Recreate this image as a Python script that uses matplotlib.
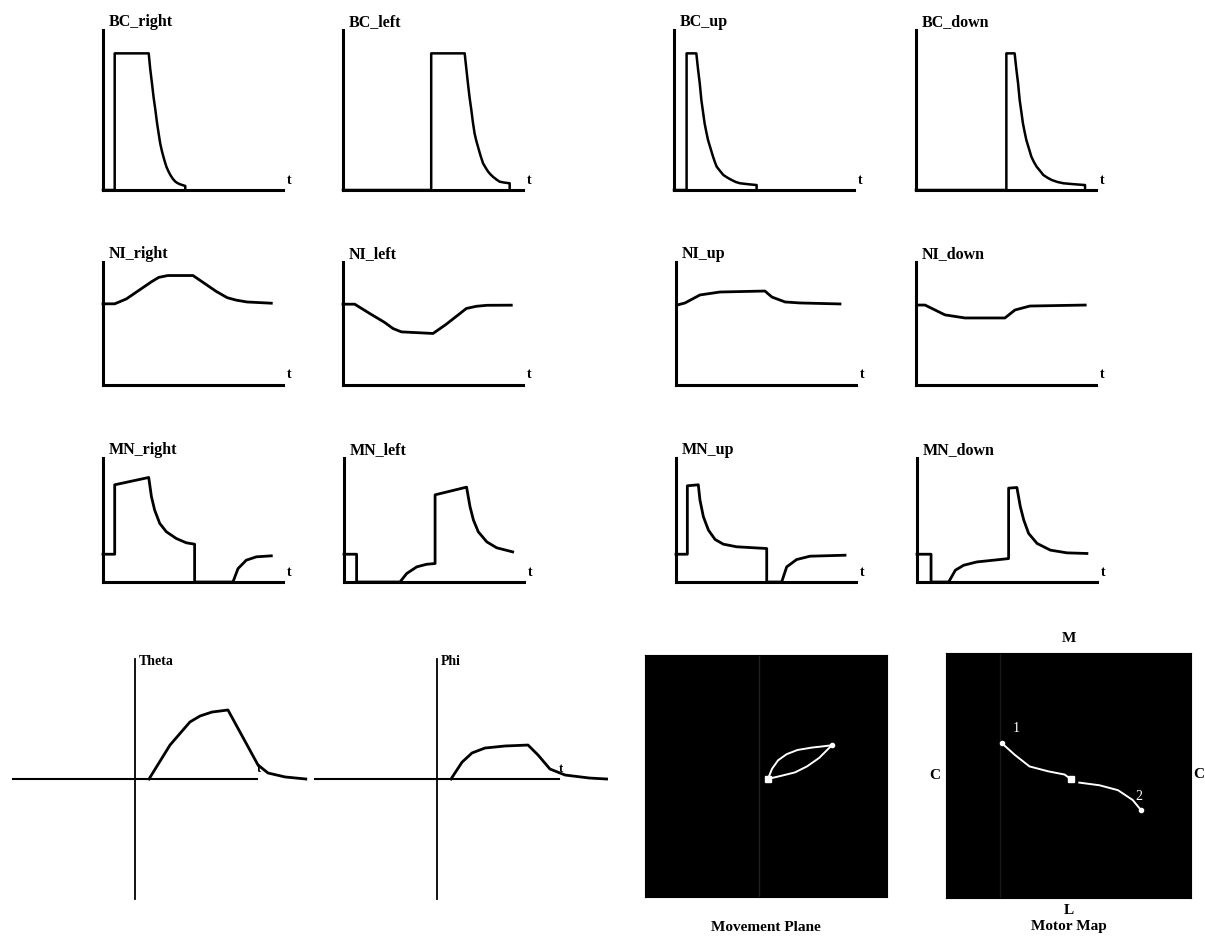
"""
Network activity panels: BC / NI / MN traces, joint angles,
movement plane and motor map
"""

import matplotlib
matplotlib.use("Agg")
import matplotlib.pyplot as plt

W, H = 1205, 941
SERIF = ["Liberation Serif", "DejaVu Serif"]

# ---- BC row (burst traces) ----
bc_right_t = [0, 0.065, 0.065, 0.254, 0.262, 0.272, 0.281, 0.291, 0.300, 0.309, 0.318, 0.328,
              0.340, 0.352, 0.363, 0.374, 0.388, 0.402, 0.416, 0.430, 0.444, 0.457, 0.457]
bc_right_v = [0, 0, 0.854, 0.854, 0.76, 0.667, 0.58, 0.50, 0.42, 0.354, 0.29, 0.240,
              0.19, 0.146, 0.118, 0.094, 0.07, 0.052, 0.042, 0.035, 0.03, 0.025, 0]
bc_left_t = [0, 0.49, 0.49, 0.676, 0.685, 0.694, 0.703, 0.713, 0.722, 0.731, 0.740, 0.75,
             0.764, 0.778, 0.792, 0.806, 0.82, 0.833, 0.852, 0.87, 0.898, 0.926, 0.926]
bc_left_v = [0, 0, 0.854, 0.854, 0.76, 0.667, 0.58, 0.5, 0.42, 0.354, 0.31, 0.27,
             0.215, 0.167, 0.14, 0.115, 0.097, 0.083, 0.066, 0.052, 0.046, 0.042, 0]
bc_up_t = [0, 0.07, 0.07, 0.124, 0.133, 0.143, 0.152, 0.161, 0.170, 0.180, 0.189, 0.203,
           0.217, 0.227, 0.237, 0.255, 0.274, 0.297, 0.32, 0.343, 0.367, 0.413, 0.459, 0.459]
bc_up_v = [0, 0, 0.854, 0.854, 0.76, 0.667, 0.5625, 0.49, 0.417, 0.36, 0.3125, 0.26,
           0.208, 0.175, 0.146, 0.12, 0.094, 0.077, 0.0625, 0.05, 0.042, 0.036, 0.031, 0]
bc_down_t = [0, 0.502, 0.502, 0.548, 0.557, 0.567, 0.576, 0.585, 0.594, 0.604, 0.613, 0.627,
             0.641, 0.655, 0.67, 0.689, 0.707, 0.73, 0.754, 0.786, 0.819, 0.879, 0.939, 0.939]
bc_down_v = [0, 0, 0.854, 0.854, 0.76, 0.667, 0.5625, 0.49, 0.417, 0.36, 0.3125, 0.26,
             0.208, 0.175, 0.146, 0.12, 0.094, 0.077, 0.0625, 0.05, 0.042, 0.036, 0.031, 0]

# ---- NI row ----
ni_right_t = [0.0, 0.065, 0.13, 0.2, 0.27, 0.31, 0.36, 0.5, 0.56, 0.63, 0.69, 0.74, 0.8, 0.935]
ni_right_v = [0.66, 0.66, 0.70, 0.77, 0.84, 0.875, 0.89, 0.89, 0.83, 0.76, 0.71, 0.69, 0.675, 0.665]
ni_left_t = [0.0, 0.065, 0.15, 0.23, 0.278, 0.324, 0.5, 0.57, 0.64, 0.685, 0.741, 0.8, 0.935]
ni_left_v = [0.657, 0.657, 0.58, 0.51, 0.459, 0.432, 0.419, 0.49, 0.57, 0.622, 0.64, 0.648, 0.649]
ni_up_t = [0.006, 0.05, 0.133, 0.244, 0.494, 0.533, 0.606, 0.689, 0.911]
ni_up_v = [0.65, 0.667, 0.732, 0.756, 0.764, 0.715, 0.675, 0.667, 0.659]
ni_down_t = [0.011, 0.05, 0.161, 0.272, 0.494, 0.55, 0.633, 0.94]
ni_down_v = [0.65, 0.65, 0.57, 0.545, 0.545, 0.61, 0.642, 0.65]

# ---- MN row ----
mn_right_t = [0, 0.065, 0.065, 0.254, 0.269, 0.287, 0.315, 0.352, 0.407, 0.463, 0.509, 0.509,
              0.722, 0.75, 0.796, 0.852, 0.935]
mn_right_v = [0.224, 0.224, 0.784, 0.843, 0.689, 0.58, 0.473, 0.405, 0.351, 0.316, 0.305, 0,
              0, 0.108, 0.176, 0.203, 0.211]
mn_left_t = [0, 0.07, 0.07, 0.311, 0.348, 0.404, 0.459, 0.506, 0.506, 0.681, 0.7, 0.719,
             0.746, 0.793, 0.848, 0.937]
mn_left_v = [0.224, 0.224, 0, 0, 0.068, 0.122, 0.143, 0.149, 0.703, 0.765, 0.608, 0.5,
             0.405, 0.324, 0.276, 0.243]
mn_up_t = [0, 0.063, 0.063, 0.124, 0.133, 0.152, 0.18, 0.217, 0.263, 0.337, 0.504, 0.504,
           0.587, 0.615, 0.67, 0.744, 0.939]
mn_up_v = [0.224, 0.224, 0.776, 0.784, 0.662, 0.527, 0.419, 0.343, 0.305, 0.284, 0.27, 0,
           0, 0.122, 0.181, 0.208, 0.216]
mn_down_t = [0, 0.078, 0.078, 0.176, 0.213, 0.259, 0.333, 0.426, 0.509, 0.509, 0.555, 0.574,
             0.593, 0.62, 0.667, 0.741, 0.833, 0.944]
mn_down_v = [0.224, 0.224, 0, 0, 0.095, 0.135, 0.162, 0.176, 0.189, 0.757, 0.762, 0.608,
             0.5, 0.392, 0.311, 0.257, 0.235, 0.23]

# ---- joint angles ----
theta_t = [0.115, 0.287, 0.45, 0.533, 0.631, 0.762, 1.008, 1.09, 1.23, 1.40]
theta_v = [0.0, 0.283, 0.475, 0.525, 0.558, 0.575, 0.117, 0.05, 0.017, 0.0]
phi_t = [0.115, 0.205, 0.287, 0.393, 0.557, 0.746, 0.828, 0.926, 1.05, 1.25, 1.39]
phi_v = [0.0, 0.14, 0.217, 0.258, 0.275, 0.283, 0.2, 0.083, 0.033, 0.008, 0.0]

# ---- movement plane (hand path, two arcs) ----
move_up_x = [0.016, 0.05, 0.1, 0.17, 0.26, 0.38, 0.47, 0.544]
move_up_y = [-0.024, 0.06, 0.13, 0.18, 0.215, 0.235, 0.245, 0.254]
move_lo_x = [0.016, 0.12, 0.24, 0.34, 0.44, 0.544]
move_lo_y = [-0.024, 0.0, 0.03, 0.08, 0.15, 0.254]

# ---- motor map ----
map_a_x = [-0.542, -0.438, -0.318, -0.166, -0.032, 0.022]
map_a_y = [0.262, 0.168, 0.074, 0.034, 0.008, -0.032]
map_b_x = [0.088, 0.254, 0.404, 0.524, 0.59]
map_b_y = [-0.058, -0.08, -0.12, -0.2, -0.28]


def px_axes(fig, x0, ytop, w, h):
    return fig.add_axes([x0 / W, 1 - (ytop + h) / H, w / W, h / H])


def small_panel(fig, x0, ybase, h, title, t, v, lw=2.0):
    ax = px_axes(fig, x0, ybase - h, 180, h)
    ax.set_xlim(0, 1)
    ax.set_ylim(0, 1)
    ax.patch.set_alpha(0)
    for s in ["top", "right"]:
        ax.spines[s].set_visible(False)
    for s in ["left", "bottom"]:
        ax.spines[s].set_linewidth(2.2)
    ax.set_xticks([])
    ax.set_yticks([])
    ax.plot(t, v, color="black", lw=lw, clip_on=False)
    ax.text(0.03, 1.0 + 4 / h, title, transform=ax.transAxes, fontsize=11.5,
            fontweight="bold", family=SERIF, va="baseline")
    ax.text(1.02, 10 / h, "t", transform=ax.transAxes, fontsize=10,
            fontweight="bold", family=SERIF, va="center")
    return ax


def angle_panel(fig, x0, x1, ox, title, t, v):
    # origin at pixel (ox, 779); 122 px per x unit, 120 px per y unit
    ax = px_axes(fig, x0, 655, x1 - x0, 250)
    ax.set_xlim((x0 - ox) / 122, (x1 - ox) / 122)
    ax.set_ylim(-(905 - 779) / 120, (779 - 655) / 120)
    ax.axis("off")
    ax.plot([-1.0, 1.0], [0, 0], color="black", lw=1.5)
    ax.plot([0, 0], [-1.0, 1.0], color="black", lw=1.3)
    ax.plot(t, v, color="black", lw=2.0)
    ax.text(0.03, 0.98, title, fontsize=10, fontweight="bold", family=SERIF, va="center")
    ax.text(1.0, 0.08, "t", fontsize=9, fontweight="bold", family=SERIF, va="center")
    return ax


def black_box(fig, x0, ytop, size):
    ax = px_axes(fig, x0, ytop, size, size)
    ax.set_facecolor("black")
    ax.set_xlim(-1, 1)
    ax.set_ylim(-1, 1)
    ax.set_xticks([])
    ax.set_yticks([])
    return ax


fig = plt.figure(figsize=(W / 100, H / 100), dpi=100)

# rows of small traces
small_panel(fig, 103, 190, 160, "BC_right", bc_right_t, bc_right_v, lw=1.8)
small_panel(fig, 343, 190, 160, "BC_left", bc_left_t, bc_left_v, lw=1.8)
small_panel(fig, 674, 190, 160, "BC_up", bc_up_t, bc_up_v, lw=1.8)
small_panel(fig, 916, 190, 160, "BC_down", bc_down_t, bc_down_v, lw=1.8)

small_panel(fig, 103, 385, 123, "NI_right", ni_right_t, ni_right_v)
small_panel(fig, 343, 385, 123, "NI_left", ni_left_t, ni_left_v)
small_panel(fig, 676, 385, 123, "NI_up", ni_up_t, ni_up_v)
small_panel(fig, 916, 385, 123, "NI_down", ni_down_t, ni_down_v)

small_panel(fig, 103, 582, 124, "MN_right", mn_right_t, mn_right_v)
small_panel(fig, 344, 582, 124, "MN_left", mn_left_t, mn_left_v)
small_panel(fig, 676, 582, 124, "MN_up", mn_up_t, mn_up_v)
small_panel(fig, 917, 582, 124, "MN_down", mn_down_t, mn_down_v)

# joint angles
angle_panel(fig, 10, 312, 135, "Theta", theta_t, theta_v)
angle_panel(fig, 314, 614, 437, "Phi", phi_t, phi_v)

# movement plane
ax = black_box(fig, 645, 655, 242)
ax.axvline(-0.056, color="#202020", lw=1)
ax.plot(move_up_x, move_up_y, color="white", lw=1.4)
ax.plot(move_lo_x, move_lo_y, color="white", lw=1.4)
ax.plot(move_up_x[0], move_up_y[0], "s", color="white", ms=4)
ax.plot(move_up_x[-1], move_up_y[-1], "o", color="white", ms=3)
ax.text(0.5, -0.125, "Movement Plane", transform=ax.transAxes, ha="center", va="center",
        fontsize=11, fontweight="bold", family=SERIF)

# motor map
ax = black_box(fig, 946, 653, 245)
ax.axvline(-0.56, color="#181818", lw=1)
ax.plot(map_a_x, map_a_y, color="white", lw=1.4)
ax.plot(map_b_x, map_b_y, color="white", lw=1.4)
ax.plot(map_a_x[0], map_a_y[0], "o", color="white", ms=3)
ax.plot(map_b_x[-1], map_b_y[-1], "o", color="white", ms=3)
ax.plot(map_a_x[-1], map_a_y[-1], "s", color="white", ms=4)
ax.text(map_a_x[0] + 0.09, map_a_y[0] + 0.09, "1", color="white", fontsize=10, family=SERIF)
ax.text(map_b_x[-1] - 0.04, map_b_y[-1] + 0.08, "2", color="white", fontsize=10, family=SERIF)
ax.text(0.5, 1.06, "M", transform=ax.transAxes, ha="center", va="center",
        fontsize=11, fontweight="bold", family=SERIF)
ax.text(0.5, -0.05, "L", transform=ax.transAxes, ha="center", va="center",
        fontsize=11, fontweight="bold", family=SERIF)
ax.text(0.5, -0.115, "Motor Map", transform=ax.transAxes, ha="center", va="center",
        fontsize=11, fontweight="bold", family=SERIF)
ax.text(-0.045, 0.5, "C", transform=ax.transAxes, ha="center", va="center",
        fontsize=11, fontweight="bold", family=SERIF)
ax.text(1204 / W, 1 - 775 / H, "C", transform=fig.transFigure, ha="right", va="center",
        fontsize=11, fontweight="bold", family=SERIF)

fig.savefig("out.png", dpi=100)
